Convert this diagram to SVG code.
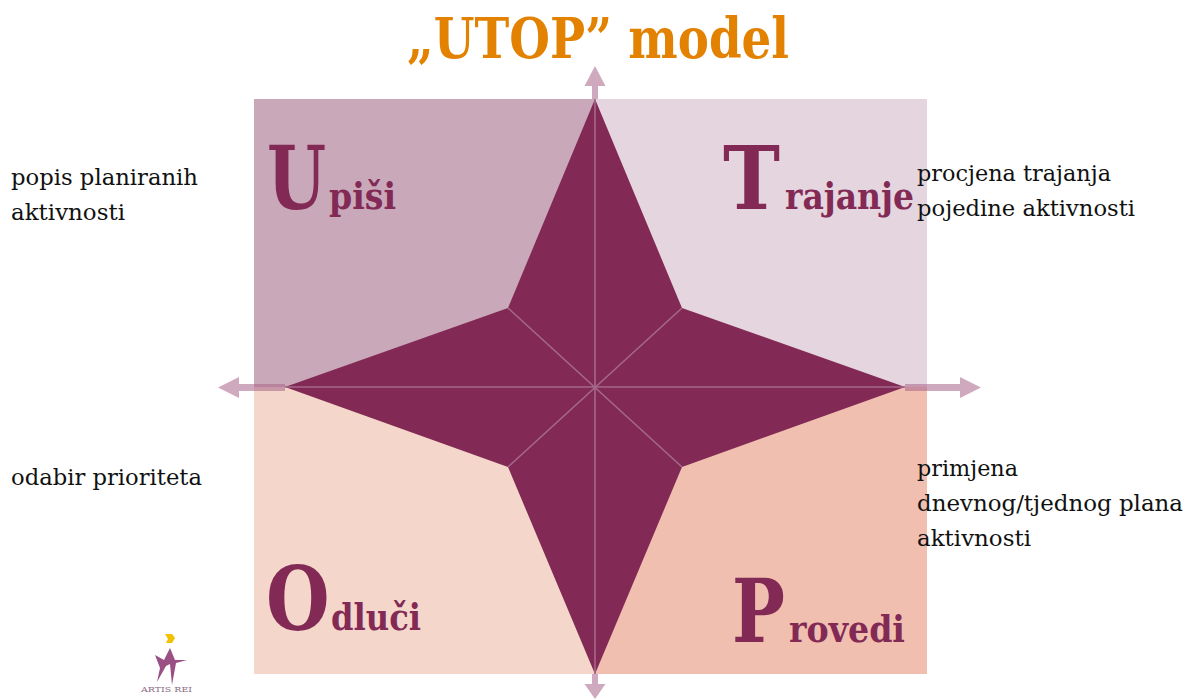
<svg xmlns="http://www.w3.org/2000/svg" width="1186" height="699" viewBox="0 0 1186 699">
<style>
text{font-family:"DejaVu Serif","Liberation Serif",serif}
.lab{fill:#822a55;font-weight:700;font-size:37px}
.big{fill:#822a55;font-weight:700;font-size:88px}
.note{font-size:22px;fill:#111}
.arrow{fill:#a8648a;fill-opacity:.55}
.axis{stroke:#a4688a;stroke-width:1.6;fill:none}
</style>
<rect width="1186" height="699" fill="#fff"/>
<g id="title"><text x="407" y="58" font-size="56" font-weight="700" fill="#e38200" textLength="382" lengthAdjust="spacingAndGlyphs">„UTOP” model</text></g>
<g id="quadrant-upisi"><rect x="254" y="99" width="341" height="288" fill="#c9a8b9"/></g>
<g id="quadrant-trajanje"><rect x="595" y="99" width="332" height="288" fill="#e5d5de"/></g>
<g id="quadrant-odluci"><rect x="254" y="387" width="341" height="287" fill="#f4d6ca"/></g>
<g id="quadrant-provedi"><rect x="595" y="387" width="332" height="287" fill="#f0bfb0"/></g>
<g id="connectors">
<path class="arrow" d="M592 99V86H584.500L595 66L605.500 86H598V99Z"/>
<path class="arrow" d="M905 384H960V377L981 387.500L960 398V391H905Z"/>
<path class="arrow" d="M592 674V684H584.500L595 699L605.500 684H598V674Z"/>
<path class="arrow" d="M285 384H239V377L218 387.500L239 398V391H285Z"/>
</g>
<g id="star">
<path fill="#822a55" d="M595 99L682 308L905 387L682 467L595 674L508 467L285 387L508 308Z"/>
<path class="axis" d="M595 99V674M285 387H905M508 308L682 467M682 308L508 467"/>
</g>
<g id="label-upisi"><text class="big" transform="translate(267 209) scale(.77 1)">U</text><text class="lab" x="329" y="209" textLength="67" lengthAdjust="spacingAndGlyphs">piši</text></g>
<g id="label-trajanje"><text class="big" transform="translate(723 209) scale(.87 1)">T</text><text class="lab" x="785" y="209" textLength="129" lengthAdjust="spacingAndGlyphs">rajanje</text></g>
<g id="label-odluci"><text class="big" transform="translate(266 630) scale(.83 1)">O</text><text class="lab" x="331" y="630" textLength="90" lengthAdjust="spacingAndGlyphs">dluči</text></g>
<g id="label-provedi"><text class="big" transform="translate(732 642) scale(.8 1)">P</text><text class="lab" x="789" y="642" textLength="116" lengthAdjust="spacingAndGlyphs">rovedi</text></g>
<g id="note-upisi"><text class="note" x="11" y="185" textLength="187" lengthAdjust="spacingAndGlyphs">popis planiranih</text><text class="note" x="11" y="220" textLength="114" lengthAdjust="spacingAndGlyphs">aktivnosti</text></g>
<g id="note-trajanje"><text class="note" x="917" y="181" textLength="194" lengthAdjust="spacingAndGlyphs">procjena trajanja</text><text class="note" x="917" y="216" textLength="218" lengthAdjust="spacingAndGlyphs">pojedine aktivnosti</text></g>
<g id="note-odluci"><text class="note" x="11" y="485" textLength="191" lengthAdjust="spacingAndGlyphs">odabir prioriteta</text></g>
<g id="note-provedi"><text class="note" x="917" y="476" textLength="101" lengthAdjust="spacingAndGlyphs">primjena</text><text class="note" x="917" y="511" textLength="266" lengthAdjust="spacingAndGlyphs">dnevnog/tjednog plana</text><text class="note" x="917" y="546" textLength="114" lengthAdjust="spacingAndGlyphs">aktivnosti</text></g>
<g id="logo">
<path fill="#f2c200" d="M165 634h7l3 4l-3 5h-6l2-4z"/>
<path fill="#9a4f85" d="M170 648L164 660L155 655L160 668L157 682L166 666L170 664L172 685L176 663L187 660L175 660Z"/>
<text x="141" y="692" font-size="8" fill="#8d6d85" textLength="51" lengthAdjust="spacingAndGlyphs">ARTIS REI</text>
</g>
</svg>
